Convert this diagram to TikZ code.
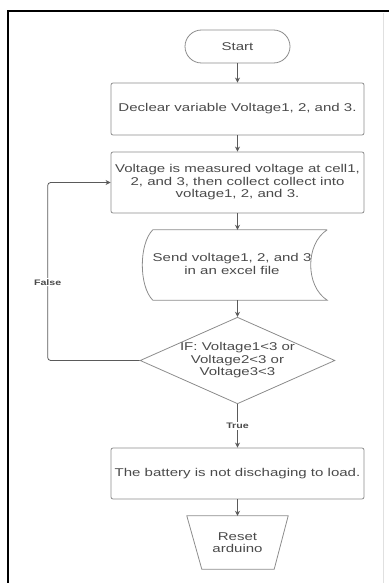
\documentclass[tikz,border=0pt]{standalone}
\usepackage{fontspec}
\setmainfont{Liberation Sans}[FakeStretch=1.33]
\usetikzlibrary{shapes.geometric,arrows.meta}
\definecolor{shp}{HTML}{8C8C8C}
\definecolor{txt}{HTML}{4A4A4A}
\definecolor{arr}{HTML}{5A5A5A}
\begin{document}
\begin{tikzpicture}[x=1pt,y=-1pt,
  every node/.style={text=txt, font=\fontsize{11.3}{12.5}\selectfont},
  box/.style={draw=shp, line width=0.8pt, rounded corners=2pt, minimum width=253pt, inner sep=0pt, align=center},
  conn/.style={draw=arr, line width=0.8pt, -{Stealth[length=5pt,width=5pt]}},
  shapeline/.style={draw=shp, line width=0.8pt},
  lbl/.style={fill=white, font=\bfseries\fontsize{8}{9}\selectfont, inner sep=1pt}]
\useasboundingbox (0,0) rectangle (388,583);
% outer frame
\draw[black, line width=2.6pt] (8,584) -- (8,11) -- (389,11);
\draw[black!12, line width=0.6pt] (383,13) -- (383,583);

\node[shapeline, rounded corners=16.5pt, minimum width=105pt, minimum height=33pt, inner sep=0pt] (start) at (237.5,46.5) {Start};
\node[box, minimum height=52pt] (decl) at (237.5,109) {Declear variable Voltage1, 2, and 3.};
\node[box, minimum height=61pt] (volt) at (237.5,182.5) {Voltage is measured voltage at cell1,\\ 2, and 3, then collect collect into\\ voltage1, 2, and 3.};
\node[minimum width=174pt, minimum height=70pt, inner sep=0pt] (send) at (240,265) {};
\node[align=center, inner sep=0pt] (sendtxt) at (232,264) {Send voltage1, 2, and 3\\ in an excel file};
\node[diamond, shapeline, aspect=2.25, inner sep=0pt, minimum width=191pt, minimum height=85pt, align=center] (dia) at (237.5,360.5) {IF: Voltage1<3 or\\ Voltage2<3 or\\ Voltage3<3};
\node[box, minimum height=51pt] (bat) at (237.5,473.5) {The battery is not dischaging to load.};
\node[minimum width=101pt, minimum height=53pt, inner sep=0pt, align=center] (reset) at (237.5,542.5) {Reset\\ arduino};

% stored data shape
\draw[shapeline] (send.north east) -- (send.north west)
  .. controls +(-14,14) and +(-14,-14) .. (send.south west)
  -- (send.south east)
  .. controls +(-22,-14) and +(-22,14) .. (send.north east);
% trapezoid
\draw[shapeline] (reset.north west) -- (reset.north east) -- ([xshift=-14pt]reset.south east) -- ([xshift=15pt]reset.south west) -- cycle;

% connectors
\draw[conn] (start) -- (decl);
\draw[conn] (decl) -- (volt);
\draw[conn] (volt.south) -- (volt.south |- send.north);
\draw[conn] (volt.south |- send.south) -- (dia.north);
\draw[conn] (dia) -- node[lbl]{True} (bat);
\draw[conn] (bat) -- (reset);
\coordinate (fc) at ([xshift=-92pt]dia.west);
\draw[conn, rounded corners=3pt] (dia.west) -- (fc) |- node[lbl, pos=0.22]{False} (volt.west);
\end{tikzpicture}
\end{document}
